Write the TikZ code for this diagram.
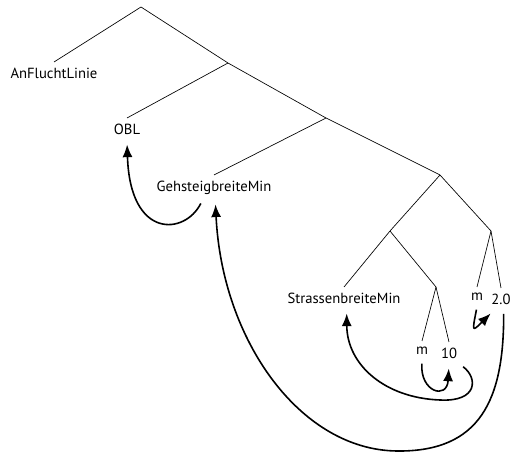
\documentclass[tikz,border=0pt]{standalone}
\usepackage{fontspec}
\setmainfont{PT Sans}
\usepackage{tikz}
\usetikzlibrary{positioning,arrows.meta}

\begin{document}
\begin{tikzpicture}[
    x=0.75pt,y=-0.75pt,
    leaf/.style={font=\fontsize{11}{13}\selectfont,inner xsep=1pt,inner ysep=4.5pt,anchor=north},
    branch/.style={line width=0.5pt},
    dep/.style={-{Latex[length=9.5pt,width=7.5pt]},line width=1.2pt,
                shorten <=2pt,shorten >=2.5pt}
]
\useasboundingbox (0,0) rectangle (511,452);

% tree skeleton
\coordinate (root) at (141,7);
\coordinate (b1)   at (228,63);
\coordinate (b2)   at (326,118);
\coordinate (b3)   at (440,175);
\coordinate (b4)   at (390,231);
\coordinate (b5)   at (491,231);
\coordinate (b6)   at (436,287);

\node[leaf] (anf)  at (54,62)   {AnFluchtLinie};
\node[leaf] (obl)  at (127,118) {OBL};
\node[leaf] (geh)  at (214,175) {GehsteigbreiteMin};
\node[leaf] (str)  at (344,287) {StrassenbreiteMin};
\node[leaf] (unit) at (422,341) {m};
\node[leaf] (ten)  at (449,342) {10};
\node[leaf] (unitb) at (477,287) {m};
\node[leaf] (two)  at (501,288) {2.0};

\draw[branch] (anf.north) -- (root) -- (b1) -- (b2) -- (b3) -- (b5) -- (two.north);
\draw[branch] (b1) -- (obl.north);
\draw[branch] (b2) -- (geh.north);
\draw[branch] (b3) -- (b4) -- (str.north);
\draw[branch] (b4) -- (b6) -- (ten.north);
\draw[branch] (b6) -- (unit.north);
\draw[branch] (b5) -- (unitb.north);

% dependencies
\draw[dep] ([xshift=-9pt]geh.south) .. controls (185,235) and (130,240) .. (obl.south);
\draw[dep] ([xshift=2pt]two.south) .. controls (504,400) and (480,452) .. (397,451)
           .. controls (300,450) and (222,340) .. ([xshift=1pt]geh.south);
\draw[dep] ([xshift=9pt]ten.south) .. controls (478,378) and (478,402) .. (440,400)
           .. controls (385,398) and (347,365) .. ([xshift=2pt]str.south);
\draw[dep] (unit.south) .. controls (420,392) and (447,400) .. (ten.south);
\draw[dep] (unitb.south) .. controls (472,332) .. ([xshift=-6pt]two.south);
\end{tikzpicture}
\end{document}
